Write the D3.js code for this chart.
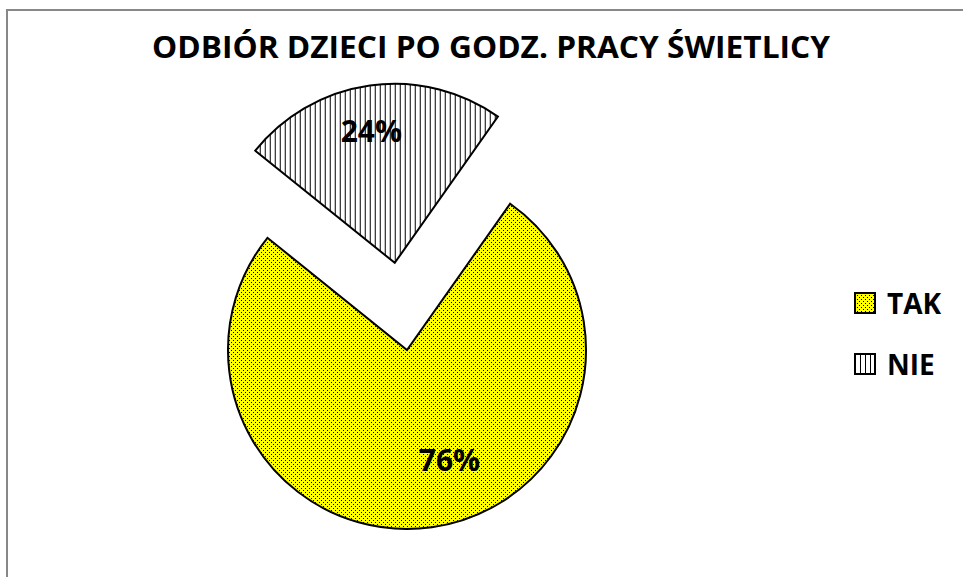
<!DOCTYPE html>
<html>
<head>
<meta charset="utf-8">
<script src="https://cdn.jsdelivr.net/npm/d3@7"></script>
<style>
  body { margin: 0; background: #fff; }
  svg { display: block; font-family: "Open Sans", "DejaVu Sans", sans-serif; }
</style>
</head>
<body>
<div id="chart"></div>
<script>
// chart data
const categories = ["TAK", "NIE"];
const values = [76, 24];
const pctLabels = ["76%", "24%"];
const chartTitle = "ODBIÓR DZIECI PO GODZ. PRACY ŚWIETLICY";

// layout
let width = 963, height = 577;
let cx = 407, cy = 350, radius = 179;
let firstSliceAngle = 35.2;      // degrees, like excel's "angle of first slice"
let explodeDist = [0, 88];
let labelK = 0.66;
let labelNudge = [[26, -7], [-7, -15]];
let fills = ['url(#dots)', 'url(#vlines)'];

const svg = d3.select('#chart').append('svg')
    .attr('width', width)
    .attr('height', height);

// patterns
const defs = svg.append('defs');
const dots = defs.append('pattern')
    .attr('id', 'dots')
    .attr('patternUnits', 'userSpaceOnUse')
    .attr('width', 4).attr('height', 4);
dots.append('rect').attr('width', 4).attr('height', 4).attr('fill', '#ffff00');
dots.append('rect').attr('x', 0).attr('y', 0).attr('width', 1).attr('height', 1)
    .attr('fill', '#000').attr('shape-rendering', 'crispEdges');
dots.append('rect').attr('x', 2).attr('y', 2).attr('width', 1).attr('height', 1)
    .attr('fill', '#000').attr('shape-rendering', 'crispEdges');

const vl = defs.append('pattern')
    .attr('id', 'vlines')
    .attr('patternUnits', 'userSpaceOnUse')
    .attr('width', 5).attr('height', 5);
vl.append('rect').attr('width', 5).attr('height', 5).attr('fill', '#fff');
vl.append('rect').attr('x', 0).attr('width', 1).attr('height', 5)
    .attr('fill', '#000').attr('shape-rendering', 'crispEdges');

// chart area border (right and bottom run off the page)
svg.append('path')
    .attr('d', 'M7,' + height + 'V10H' + width)
    .attr('fill', 'none')
    .attr('stroke', '#888')
    .attr('stroke-width', 2);

// title
svg.append('text')
    .attr('x', 491)
    .attr('y', 58)
    .attr('text-anchor', 'middle')
    .attr('font-size', 31)
    .attr('font-weight', 'bold')
    .attr('textLength', 678)
    .attr('lengthAdjust', 'spacingAndGlyphs')
    .attr('fill', '#000')
    .text(chartTitle);

// pie
let a0 = firstSliceAngle * Math.PI / 180;
const pie = d3.pie().sort(null).startAngle(a0).endAngle(a0 + 2 * Math.PI);
const arc = d3.arc().innerRadius(0).outerRadius(radius);
const labelArc = d3.arc().innerRadius(radius * labelK).outerRadius(radius * labelK);
const arcs = pie(values);

const slices = svg.append('g')
    .attr('transform', 'translate(' + cx + ',' + cy + ')')
    .selectAll('g')
    .data(arcs)
    .enter()
    .append('g')
    .attr('transform', function(d, i){
        var mid = (d.startAngle + d.endAngle) / 2;
        var e = explodeDist[i];
        return 'translate(' + (Math.sin(mid) * e) + ',' + (-Math.cos(mid) * e) + ')';
    });

slices.append('path')
    .attr('d', arc)
    .attr('fill', function(d, i){ return fills[i]; })
    .attr('stroke', '#000')
    .attr('stroke-width', 2)
    .attr('stroke-linejoin', 'miter');

slices.append('text')
    .attr('transform', function(d, i){
        var c = labelArc.centroid(d);
        return 'translate(' + (c[0] + labelNudge[i][0]) + ',' + (c[1] + labelNudge[i][1]) + ')';
    })
    .attr('text-anchor', 'middle')
    .attr('dy', '0.36em')
    .attr('font-size', 30)
    .attr('font-weight', 'bold')
    .attr('fill', '#000')
    .text(function(d, i){ return pctLabels[i]; });

// legend
const legend = svg.append('g')
    .attr('transform', 'translate(855,293)')
    .selectAll('g')
    .data(categories)
    .enter()
    .append('g')
    .attr('transform', function(d, i){ return 'translate(0,' + (i * 61) + ')'; });

legend.append('rect')
    .attr('width', 20)
    .attr('height', 20)
    .attr('fill', function(d, i){ return fills[i]; })
    .attr('stroke', '#000')
    .attr('stroke-width', 2);

legend.append('text')
    .attr('x', 32)
    .attr('y', 21)
    .attr('font-size', 28)
    .attr('font-weight', 'bold')
    .attr('fill', '#000')
    .text(function(d){ return d; });
</script>
</body>
</html>
